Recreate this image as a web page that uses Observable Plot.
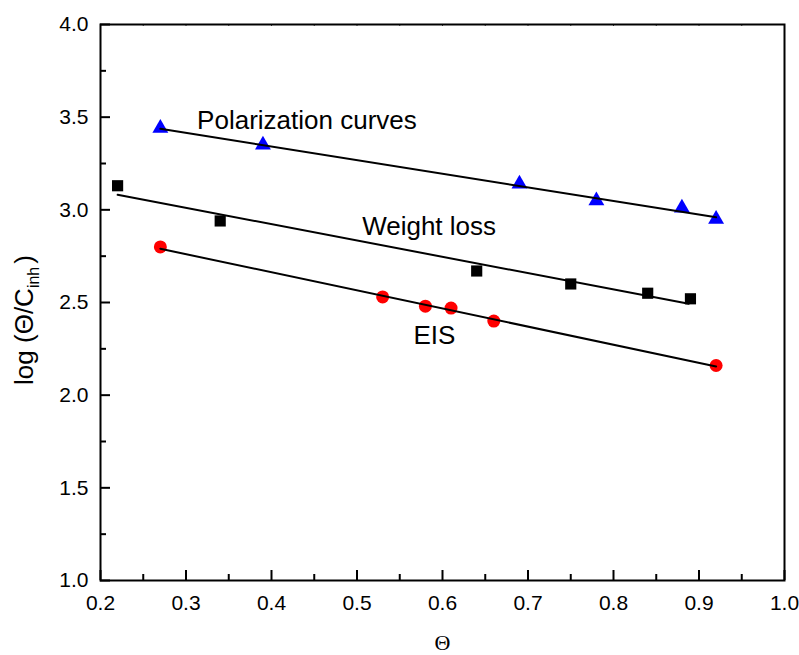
<!DOCTYPE html>
<html><head><meta charset="utf-8">
<script src="https://cdn.jsdelivr.net/npm/d3@7"></script>
<script src="https://cdn.jsdelivr.net/npm/@observablehq/plot@0.6"></script>
<style>body{margin:0;background:#fff}</style>
</head><body><div id="chart"></div>
<script>
// Polarization curves (blue triangles)
const polTheta = [0.27, 0.39, 0.69, 0.78, 0.88, 0.92];
const polLog   = [3.44, 3.35, 3.14, 3.05, 3.01, 2.95];
// Weight loss (black squares)
const wlTheta = [0.22, 0.34, 0.64, 0.75, 0.84, 0.89];
const wlLog   = [3.13, 2.94, 2.67, 2.60, 2.55, 2.52];
// EIS (red circles)
const eisTheta = [0.27, 0.53, 0.58, 0.61, 0.66, 0.92];
const eisLog   = [2.80, 2.53, 2.48, 2.47, 2.40, 2.16];
// Linear fit endpoints
const polFitTheta = [0.27, 0.92];
const polFitLog   = [3.437, 2.96];
const wlFitTheta  = [0.22, 0.888];
const wlFitLog    = [3.081, 2.493];
const eisFitTheta = [0.27, 0.92];
const eisFitLog   = [2.79, 2.155];
// Annotations
const annoText  = ["Polarization curves", "Weight loss", "EIS"];
const annoTheta = [0.313, 0.506, 0.566];
const annoLog   = [3.438, 2.862, 2.277];
// Ticks
const xMajor = [0.2, 0.3, 0.4, 0.5, 0.6, 0.7, 0.8, 0.9, 1.0];
const xMinor = [0.25, 0.35, 0.45, 0.55, 0.65, 0.75, 0.85, 0.95];
const yMajor = [1.0, 1.5, 2.0, 2.5, 3.0, 3.5, 4.0];
const yMinor = [1.25, 1.75, 2.25, 2.75, 3.25, 3.75];

const zip = (xs, ys) => xs.map((x, i) => ({x, y: ys[i]}));
const pol = zip(polTheta, polLog), wl = zip(wlTheta, wlLog), eis = zip(eisTheta, eisLog);
const polFit = zip(polFitTheta, polFitLog), wlFit = zip(wlFitTheta, wlFitLog), eisFit = zip(eisFitTheta, eisFitLog);
const anno = annoText.map((t, i) => ({t, x: annoTheta[i], y: annoLog[i]}));

const W = 799, H = 655, mL = 100, mR = 15, mT = 24, mB = 75;
const plotW = W - mL - mR, plotH = H - mT - mB;
const FONT = "'Liberation Sans', Arial, Helvetica, sans-serif";
const SERIF = "'Liberation Serif', 'Times New Roman', serif";
const fmt = d3.format(".1f");

const chart = Plot.plot({
  width: W, height: H,
  marginLeft: mL, marginRight: mR, marginTop: mT, marginBottom: mB,
  style: {fontFamily: FONT, background: "white", color: "black"},
  x: {domain: [0.2, 1.0]},
  y: {domain: [1.0, 4.0]},
  marks: [
    Plot.axisX({ticks: xMajor, tickSize: 0, tickPadding: 15, tickFormat: fmt, fontSize: 21, label: null, fill: "black"}),
    Plot.axisY({ticks: yMajor, tickSize: 0, tickPadding: 12, tickFormat: fmt, fontSize: 21, label: null, fill: "black"}),
    Plot.tickX(xMajor, {x: d => d, insetTop: plotH - 10, strokeWidth: 2, stroke: "black"}),
    Plot.tickX(xMinor, {x: d => d, insetTop: plotH - 6, strokeWidth: 2, stroke: "black"}),
    Plot.tickX(xMajor.concat(xMinor), {x: d => d, insetBottom: plotH - 2, strokeWidth: 1, stroke: "#444"}),
    Plot.tickY(yMajor, {y: d => d, insetRight: plotW - 10, strokeWidth: 2, stroke: "black"}),
    Plot.tickY(yMinor, {y: d => d, insetRight: plotW - 6, strokeWidth: 2, stroke: "black"}),
    Plot.frame({stroke: "black", strokeWidth: 2}),
    Plot.dot(pol, {x: "x", y: "y", symbol: "triangle", r: 5.9, fill: "#0000ff"}),
    Plot.dot(wl, {x: "x", y: "y", symbol: "square", r: 6.3, fill: "black"}),
    Plot.dot(eis, {x: "x", y: "y", symbol: "circle", r: 6.5, fill: "#ff0000"}),
    Plot.line(polFit, {x: "x", y: "y", stroke: "black", strokeWidth: 2}),
    Plot.line(wlFit, {x: "x", y: "y", stroke: "black", strokeWidth: 2}),
    Plot.line(eisFit, {x: "x", y: "y", stroke: "black", strokeWidth: 2}),
    Plot.text(anno, {x: "x", y: "y", text: "t", textAnchor: "start", lineAnchor: "bottom", fontSize: 26, fill: "black"}),
    Plot.text(["Θ"], {text: d => d, frameAnchor: "bottom", dy: 69, lineAnchor: "bottom", fontSize: 22, fontFamily: SERIF, fill: "black"})
  ]
});

const svg = d3.select(chart);
svg.selectAll('g[aria-label$="tick label"]').attr("font-size", 21).selectAll("text").attr("font-size", 21);
const yl = svg.append("text")
  .attr("transform", "translate(33,320) rotate(-90)")
  .attr("text-anchor", "middle")
  .attr("font-family", FONT)
  .attr("font-size", 26)
  .attr("fill", "black");
yl.append("tspan").text("log (Θ/C");
yl.append("tspan").attr("font-size", 16).attr("dy", 6).text("inh");
yl.append("tspan").attr("dy", -6).attr("dx", 3).text(")");

document.getElementById("chart").appendChild(chart);
</script>
</body></html>
